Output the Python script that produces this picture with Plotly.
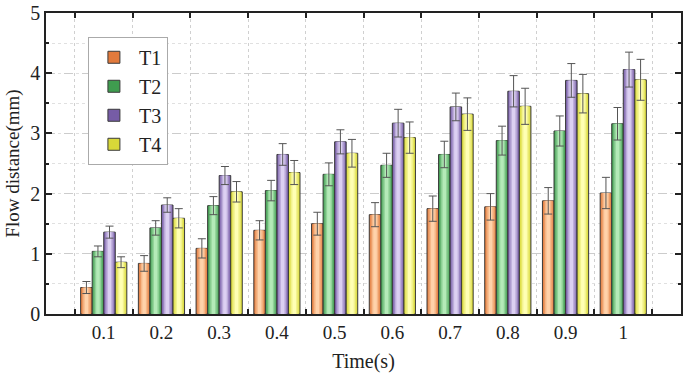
import plotly.graph_objects as go

categories = ["0.1", "0.2", "0.3", "0.4", "0.5", "0.6", "0.7", "0.8", "0.9", "1"]
series_names = ["T1", "T2", "T3", "T4"]
T1 = [0.44, 0.84, 1.09, 1.39, 1.50, 1.65, 1.75, 1.78, 1.88, 2.01]
T2 = [1.04, 1.43, 1.80, 2.05, 2.32, 2.47, 2.65, 2.88, 3.04, 3.16]
T3 = [1.36, 1.81, 2.30, 2.65, 2.86, 3.17, 3.44, 3.70, 3.88, 4.06]
T4 = [0.86, 1.59, 2.03, 2.35, 2.67, 2.93, 3.32, 3.45, 3.66, 3.89]
E1 = [0.10, 0.13, 0.16, 0.16, 0.19, 0.20, 0.21, 0.22, 0.22, 0.26]
E2 = [0.09, 0.12, 0.15, 0.17, 0.19, 0.20, 0.22, 0.24, 0.25, 0.27]
E3 = [0.10, 0.12, 0.15, 0.18, 0.20, 0.23, 0.23, 0.26, 0.28, 0.29]
E4 = [0.09, 0.16, 0.17, 0.20, 0.23, 0.26, 0.27, 0.30, 0.32, 0.34]

values = [T1, T2, T3, T4]
errors = [E1, E2, E3, E4]
dark = ["#E27A3C", "#3F9C4F", "#765CA6", "#D8D838"]
light = ["#FFD2AA", "#B4EAB8", "#DCD0F2", "#FFFFB4"]

def mix(c1, c2, t):
    a = [int(c1[i:i + 2], 16) for i in (1, 3, 5)]
    b = [int(c2[i:i + 2], 16) for i in (1, 3, 5)]
    return "#" + "".join(f"{round(a[j] + (b[j] - a[j]) * t):02X}" for j in range(3))

x_idx = list(range(len(categories)))
group = 0.8
bw = group / len(series_names)
layers = [(1.0, 0.0), (0.8, 0.35), (0.55, 0.7), (0.3, 1.0)]

fig = go.Figure()
for k, name in enumerate(series_names):
    center_off = -group / 2 + bw * k + bw / 2
    for li, (frac, t) in enumerate(layers):
        w = bw * frac
        last = li == len(layers) - 1
        fig.add_trace(go.Bar(
            x=x_idx, y=values[k], name=name,
            width=w, offset=center_off - w / 2,
            marker=dict(color=mix(dark[k], light[k], t),
                        line=dict(color="#3A3A3A", width=1 if li == 0 else 0)),
            showlegend=(li == 0), legendgroup=name,
            error_y=dict(type="data", array=errors[k], visible=last,
                         color="#555555", thickness=1, width=4),
            hoverinfo="skip" if li else None,
        ))

fig.update_layout(
    barmode="overlay",
    width=685, height=379,
    margin=dict(l=46, r=2, t=9, b=65),
    paper_bgcolor="white", plot_bgcolor="white",
    font=dict(family="Liberation Serif", size=18, color="#222"),
    legend=dict(x=0.066, y=0.921, xanchor="left", yanchor="top",
                bordercolor="#AAAAAA", borderwidth=1, bgcolor="white",
                font=dict(size=20), tracegroupgap=0, itemwidth=40),
    showlegend=True,
)
fig.update_xaxes(
    range=[-1, len(categories)],
    tickmode="array", tickvals=x_idx, ticktext=categories,
    ticks="", showgrid=False, zeroline=False,
    showline=True, linecolor="#222", linewidth=1.5, mirror="allticks",
    tickfont=dict(size=19),
    minor=dict(tickmode="array", tickvals=[i - 0.5 for i in range(len(categories) + 1)],
               ticks="inside", ticklen=5, tickcolor="#222", tickwidth=1.5,
               showgrid=True, gridcolor="#D0D0D0", griddash="dot", gridwidth=1),
    title=dict(text="Time(s)", font=dict(size=20), standoff=12),
)
fig.update_yaxes(
    range=[0, 5], tickmode="array", tickvals=[0, 1, 2, 3, 4, 5],
    ticks="inside", ticklen=6, tickcolor="#222", tickwidth=1.5,
    showgrid=True, gridcolor="#CCCCCC", griddash="dash", gridwidth=1,
    zeroline=False, showline=True, linecolor="#222", linewidth=1.5, mirror="allticks",
    tickfont=dict(size=20), ticklabeloverflow="allow",
    minor=dict(dtick=0.5, ticks="inside", ticklen=3, tickcolor="#222", tickwidth=1.5,
               showgrid=True, gridcolor="#E0E0E0", griddash="dot", gridwidth=1),
    title=dict(text="Flow distance(mm)", font=dict(size=19), standoff=6),
)

fig.write_html("out.html", config={"displayModeBar": False},
               post_script="document.body.style.margin='0';")
